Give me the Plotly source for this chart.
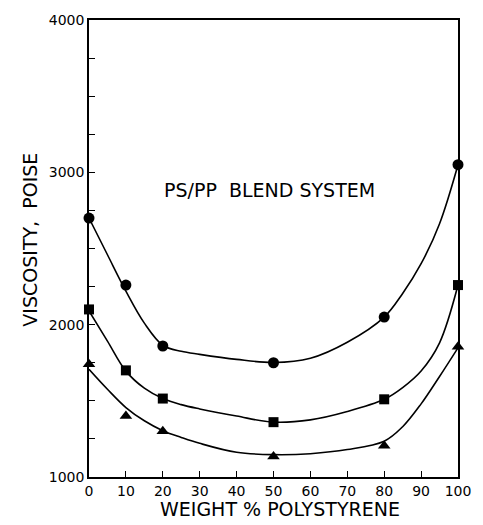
import plotly.graph_objects as go

# Measured viscosities (poise) vs weight % polystyrene
ps_wt = [0, 10, 20, 50, 80, 100]
visc_circle = [2700, 2260, 1860, 1750, 2050, 3050]
visc_square = [2100, 1700, 1515, 1360, 1510, 2260]
visc_triangle = [1740, 1400, 1300, 1135, 1205, 1855]

# Hand-drawn smooth curves through each data set
curve_x = [0, 5, 10, 15, 20, 25, 30, 40, 50, 60, 70, 80, 85, 90, 95, 100]
curve_circle = [2700, 2459, 2220, 2010, 1865, 1825, 1805, 1772, 1752,
                1780, 1885, 2050, 2205, 2400, 2663, 3050]
curve_square = [2090, 1892, 1695, 1583, 1515, 1475, 1447, 1400, 1360,
                1375, 1430, 1510, 1587, 1696, 1881, 2260]
curve_triangle = [1707, 1576, 1456, 1369, 1304, 1260, 1221, 1162, 1147,
                  1153, 1180, 1235, 1330, 1480, 1660, 1848]

x_ticks = [0, 10, 20, 30, 40, 50, 60, 70, 80, 90, 100]
y_ticks = [1000, 2000, 3000, 4000]

FONT = "DejaVu Sans"
INK = "black"

W, H = 483, 525
M_L, M_R, M_T, M_B = 89, 15, 18, 48
plot_w = W - M_L - M_R
plot_h = H - M_T - M_B


def px_to_paper(px, py):
    """Pixel position (from top-left) to paper fractions."""
    return (px - M_L) / plot_w, (H - M_B - py) / plot_h


fig = go.Figure()

for cy in (curve_circle, curve_square, curve_triangle):
    fig.add_trace(go.Scatter(
        x=curve_x, y=cy, mode="lines",
        line=dict(color=INK, width=1.6, shape="spline", smoothing=1.0),
        hoverinfo="skip", showlegend=False,
    ))

for vals, sym, sz in ((visc_circle, "circle", 11),
                      (visc_square, "square", 10),
                      (visc_triangle, "triangle-up", 11)):
    fig.add_trace(go.Scatter(
        x=ps_wt, y=vals, mode="markers",
        marker=dict(symbol=sym, size=sz, color=INK),
        cliponaxis=False, showlegend=False,
    ))

# Blend label inside the plot
fig.add_annotation(
    x=49, y=2886, xref="x", yref="y", text="PS/PP  BLEND SYSTEM",
    showarrow=False, font=dict(family=FONT, size=19, color=INK),
)

# Axis titles
xt_x, xt_y = px_to_paper(285, 509)
fig.add_annotation(
    x=xt_x, y=xt_y, xref="paper", yref="paper", text="WEIGHT % POLYSTYRENE",
    xanchor="center", yanchor="middle",
    showarrow=False, font=dict(family=FONT, size=19, color=INK),
)
yt_x, yt_y = px_to_paper(28, 239)
fig.add_annotation(
    x=yt_x, y=yt_y, xref="paper", yref="paper", text="VISCOSITY,  POISE",
    xanchor="center", yanchor="middle", textangle=-90,
    showarrow=False, font=dict(family=FONT, size=19, color=INK),
)

fig.update_layout(
    width=W, height=H,
    margin=dict(l=M_L, r=M_R, t=M_T, b=M_B),
    paper_bgcolor="white", plot_bgcolor="white",
    font=dict(family=FONT, color=INK),
    xaxis=dict(
        range=[0, 100], tickvals=x_ticks, ticktext=[str(v) for v in x_ticks],
        ticks="inside", ticklen=6, tickwidth=1.3, tickcolor=INK,
        showline=True, linecolor=INK, linewidth=1.6, mirror=True,
        showgrid=False, zeroline=False,
        tickfont=dict(family=FONT, size=14, color=INK),
    ),
    yaxis=dict(
        range=[1000, 4000], tickvals=y_ticks, ticktext=[str(v) for v in y_ticks],
        ticks="inside", ticklen=6, tickwidth=1.3, tickcolor=INK,
        minor=dict(dtick=250, ticks="inside", ticklen=6, tickwidth=1.3,
                   tickcolor=INK, showgrid=False),
        showline=True, linecolor=INK, linewidth=1.6, mirror=True,
        showgrid=False, zeroline=False,
        tickfont=dict(family=FONT, size=14, color=INK),
    ),
)

fig.write_html("out.html")
